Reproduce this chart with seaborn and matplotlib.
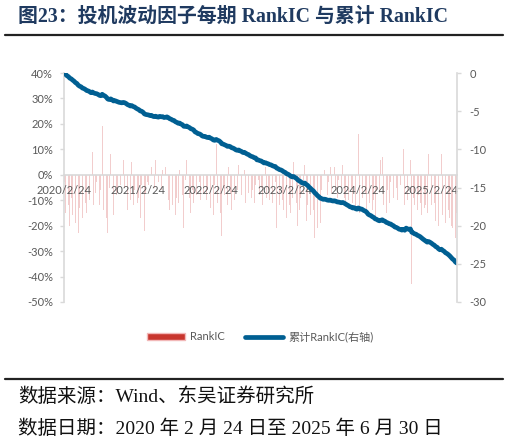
import numpy as np
import pandas as pd
import matplotlib.pyplot as plt
import matplotlib.ticker as mticker
from matplotlib.patches import Patch
from matplotlib.lines import Line2D
import seaborn as sns

# weekly RankIC (%), 2020/2/24 .. 2025/6/30
ic_pct = [
    # 2020
    -3, -15, -18, -12, -20, -9, -16, -14, -19, -11, -23,
    -13, -8, -17, -6, -11, -15, -4, -10, -14, 9, -12, -7, -3, -9,
    -12, -6, 19, -14, -9, -17, -23, -5, 8, -11, -16, 4, -8, -7, -7, -4, -3, 6, -5,
    -10, -14, -8, -10, 5, -12, -6, -15, -11, -9, -17, -4, -13, -22, -7, -3, -4,
    # 2021
    -8, 3, -12, -5, 6, -9, -3, 10, -6, 2, -11, 3,
    5, -10, -14, -7, -12, -4, -16, -9, -11, 2, -13, -8, -21, -2,
    6, -12, -9, -15, -6, -11, -25, -8, -14, -3, -10, -17, -7, 1,
    # 2022
    -10, -6, 5, -13, -8, -16, -4, 12, -11, -7, -15, -24, -5, -8,
    -9, -12, 3, -7, -14, -5, -10, -13, -6, 4, -11, -8, -13, 2, -11,
    -12, -7, -14, -9, -6, -11, -4, -25, -2,
    -8, -5, -12, -13, 3, -9, -6, -10, -4, -11, -7, -3, -21, -8, -12, -4,
    # 2023
    -10, -14, -8, -17, -6, -12, -15, -9, 5, -13, -11, -20,
    -14, -9, -16, -7, 4, -18, -12, -22, -16,
    -19, -14, -25, -17, -21, -15, -19,
    -6, -9, 2, -4, -8, -3, 3, -7, -5, 3, -6, -9, -2, -4, -5,
    # 2024
    4, -9, -12, -11, -10, -14, -5, -11, 4, -13, -7, 16, -15, 3,
    -9, -13, -7, -16, -25, -11, -8, -14, -10, -18, -6, -12, -7, 6,
    7, -12, -8, -15, -6, -11, -3, -14, -9, -17, -5, -10, -13, -4, -8, 10, -12,
    # 2025
    28, -10, -7, 6, -43, -9, -12, -5, -14, -8, -11, -16, -15, -13, -12, -15, 8, -10, -12,
    -15, -11, -18, -9, -20, -13, 8, -16, -12, -19, -10, -14, -17, -20, -21, -13, -25, -15,
]

start_date = '2020-02-24'
tick_dates = ['2020-02-24', '2021-02-24', '2022-02-24', '2023-02-24', '2024-02-24', '2025-02-24']
tick_labels = ['2020/2/24', '2021/2/24', '2022/2/24', '2023/2/24', '2024/2/24', '2025/2/24']
left_ticks = [-0.5, -0.4, -0.3, -0.2, -0.1, 0, 0.1, 0.2, 0.3, 0.4]
right_ticks = [-30, -25, -20, -15, -10, -5, 0]

dates = pd.date_range(start_date, periods=len(ic_pct), freq='7D')
ic = np.array(ic_pct) / 100
df = pd.DataFrame({'date': dates, 'RankIC': ic, 'cum': np.cumsum(ic)})

sns.set_theme(style='white')
plt.rcParams['font.family'] = ['Lato', 'Noto Sans CJK SC', 'DejaVu Sans']
plt.rcParams['axes.unicode_minus'] = False

grey = '#595959'
spine_c = '#D9D9D9'
blue = '#005F92'
cn_serif = ['Liberation Serif', 'Noto Sans CJK SC']

fig = plt.figure(figsize=(5.09, 4.43), dpi=100)
ax = fig.add_axes([64 / 509, 1 - 302 / 443, (457 - 64) / 509, (302 - 73) / 443])
ax2 = ax.twinx()

ax.bar(df['date'], df['RankIC'], width=3.5, color='#F2CDCD', linewidth=0, zorder=1)
sns.lineplot(data=df, x='date', y='cum', ax=ax2, color=blue, linewidth=3.4,
             solid_capstyle='round', legend=False)

ax.set_xlim(dates[0] - pd.Timedelta(days=1), dates[-1] + pd.Timedelta(days=1))
ax.set_ylim(-0.5, 0.4)
ax.set_yticks(left_ticks)
ax.yaxis.set_major_formatter(mticker.PercentFormatter(1.0, decimals=0))
ax2.set_ylim(-30, 0)
ax2.set_yticks(right_ticks)

ax.set_xticks(pd.to_datetime(tick_dates))
ax.set_xticklabels(tick_labels)
ax.set_xlabel('')
ax2.set_xlabel('')
ax2.set_ylabel('')

for a in (ax, ax2):
    for s in a.spines.values():
        s.set_color(spine_c)
        s.set_linewidth(1.2)
    a.spines['top'].set_visible(False)
    a.grid(False)
ax.spines['right'].set_visible(False)
ax2.spines['left'].set_visible(False)
ax2.spines['bottom'].set_visible(False)
ax.spines['bottom'].set_position(('data', 0))
ax.xaxis.set_zorder(3)

ax.tick_params(axis='y', colors=grey, labelsize=8, length=3, width=1, color=spine_c,
               pad=5, left=True)
ax.tick_params(axis='x', colors=grey, labelsize=8, length=0, pad=7)
ax2.tick_params(axis='y', colors=grey, labelsize=8, length=3, width=1, color=spine_c,
                pad=6, right=True)

# legend
handles = [Patch(facecolor='#C8362E', edgecolor='#F2B8B8'),
           Line2D([0], [0], color=blue, linewidth=3.4, solid_capstyle='round')]
fig.legend(handles, ['RankIC', '累计RankIC(右轴)'], loc='center',
           bbox_to_anchor=(0.511, 1 - 337 / 443), ncol=2, frameon=False,
           fontsize=8, labelcolor=grey, handlelength=3.4, handleheight=0.6,
           columnspacing=1.8, handletextpad=0.5)

# title and footnotes
fig.text(18 / 509, 1 - 17 / 443, '图23：投机波动因子每期 RankIC 与累计 RankIC',
         fontsize=14.3, fontweight='bold', color='#1F3A60', va='center', ha='left',
         family=cn_serif)
fig.add_artist(Line2D([5 / 509, 503 / 509], [1 - 35 / 443, 1 - 35 / 443],
                      color='#222222', linewidth=1.6))
fig.add_artist(Line2D([5 / 509, 503 / 509], [1 - 379 / 443, 1 - 379 / 443],
                      color='#222222', linewidth=1.6))
fig.text(18 / 509, 1 - 397 / 443, '数据来源：Wind、东吴证券研究所',
         fontsize=14, color='#111111', va='center', ha='left', family=cn_serif)
fig.text(18 / 509, 1 - 429 / 443, '数据日期：2020 年 2 月 24 日至 2025 年 6 月 30 日',
         fontsize=14, color='#111111', va='center', ha='left', family=cn_serif)

fig.savefig('out.png', dpi=100)
